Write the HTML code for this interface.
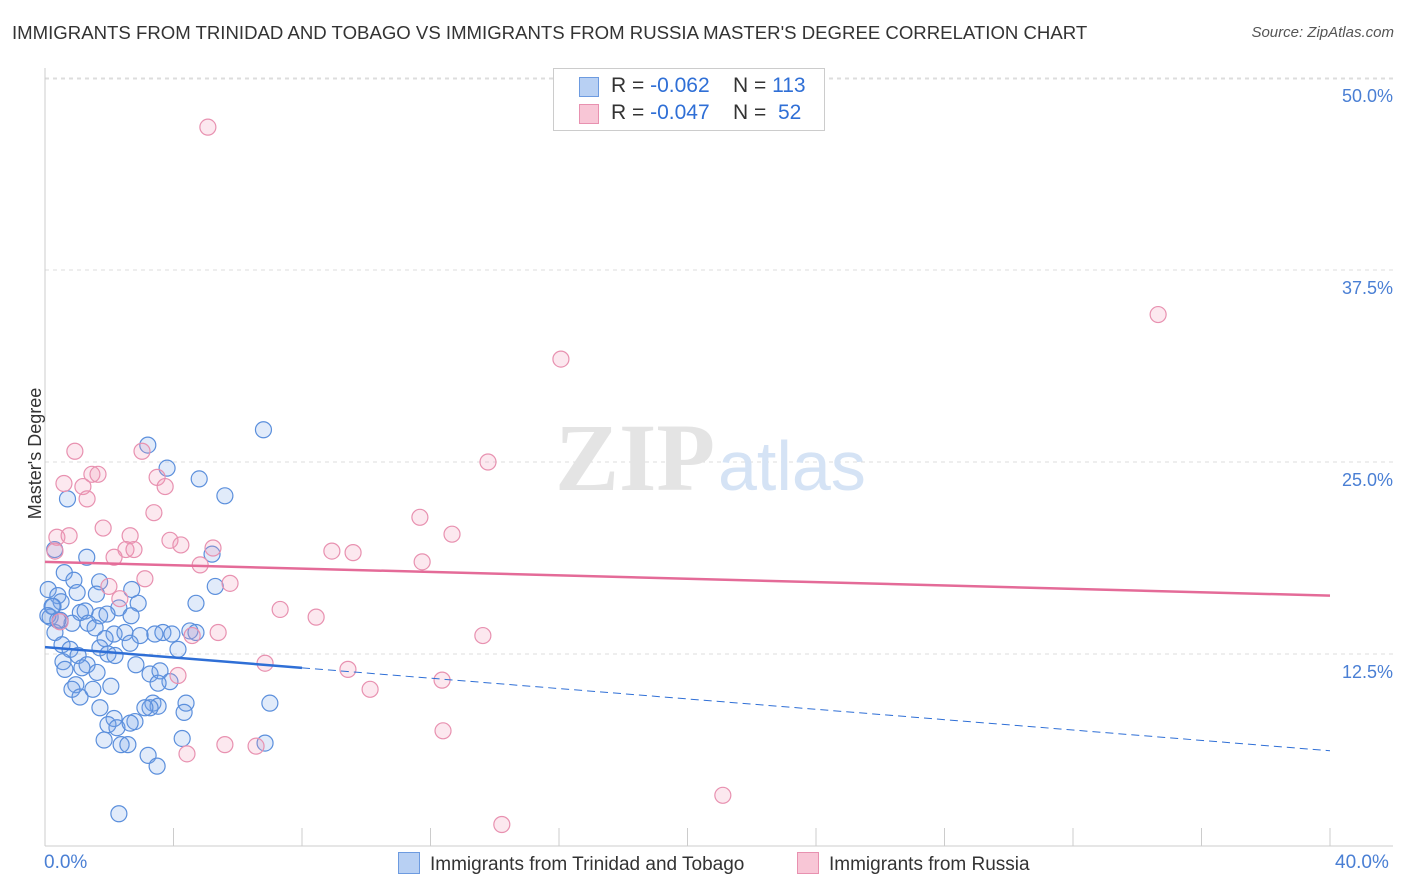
<!DOCTYPE html>
<html><head><meta charset="utf-8">
<style>
body{margin:0;background:#fff;font-family:"Liberation Sans",sans-serif;}
#wrap{position:relative;width:1406px;height:892px;overflow:hidden;}
.t{position:absolute;white-space:nowrap;}
</style></head>
<body>
<div id="wrap">
<div class="t" style="left:12px;top:22px;font-size:18.6px;color:#333;">IMMIGRANTS FROM TRINIDAD AND TOBAGO VS IMMIGRANTS FROM RUSSIA MASTER'S DEGREE CORRELATION CHART</div>
<div class="t" style="right:12px;top:24px;font-size:15px;color:#555;font-style:italic;">Source: ZipAtlas.com</div>
<svg id="plot" width="1406" height="892" style="position:absolute;left:0;top:0"></svg>
</div>
<script>
const xTicks=[0,4,8,12,16,20,24,28,32,36,40];
const yTicks=[12.5,25,37.5,50];
const yTickLabels=["12.5%","25.0%","37.5%","50.0%"];
const blueX=[3.2,6.8,3.8,4.8,5.6,0.7,0.3,1.3,5.2,0.6,0.9,1.7,0.1,0.4,1.0,1.6,2.7,5.3,4.7,2.9,2.3,0.5,0.25,1.1,1.25,1.7,1.93,2.68,0.16,0.47,0.84,1.34,1.56,0.31,2.15,2.49,2.96,3.42,3.67,3.95,4.51,4.7,1.87,2.65,4.14,0.53,0.78,1.03,1.71,1.96,2.18,0.56,1.31,0.62,1.15,1.62,2.83,3.27,3.58,3.89,3.52,2.05,0.96,1.49,0.84,1.09,1.71,3.36,3.52,4.39,4.33,3.27,2.15,2.8,1.96,2.24,1.84,2.37,2.58,4.27,3.21,3.49,2.3,7.0,6.85,2.65,3.11,0.22,0.09,0.4];
const blueY=[26.1,27.1,24.6,23.9,22.8,22.6,19.3,18.8,19.0,17.8,17.3,17.2,16.7,16.3,16.5,16.4,16.7,16.9,15.8,15.8,15.5,15.9,15.6,15.2,15.3,14.99,15.1,14.99,14.9,14.7,14.5,14.5,14.2,13.9,13.8,13.9,13.7,13.8,13.9,13.8,14.0,13.9,13.5,13.2,12.8,13.1,12.8,12.4,12.9,12.5,12.4,12.0,11.8,11.5,11.6,11.3,11.8,11.2,11.4,10.7,10.6,10.4,10.5,10.2,10.2,9.7,9.0,9.3,9.1,9.3,8.7,9.0,8.3,8.1,7.9,7.7,6.9,6.6,6.6,7.0,5.9,5.2,2.1,9.3,6.7,8.0,9.0,15.6,15.0,14.7];
const pinkX=[5.07,34.65,16.06,13.79,3.02,0.93,1.46,1.65,0.59,1.18,1.31,3.49,3.74,3.39,11.67,1.81,12.67,0.37,0.75,2.65,3.89,4.23,5.23,2.52,2.77,0.31,8.93,9.59,2.15,11.74,4.83,3.11,5.76,1.99,2.33,7.32,8.44,0.47,5.39,4.58,13.63,6.85,9.43,4.14,12.36,10.12,5.6,6.57,4.42,12.39,21.1,14.22];
const pinkY=[46.8,34.6,31.7,25.0,25.7,25.7,24.2,24.2,23.6,23.4,22.6,24.0,23.4,21.7,21.4,20.7,20.3,20.1,20.2,20.2,19.9,19.6,19.4,19.3,19.3,19.2,19.2,19.1,18.8,18.5,18.3,17.4,17.1,16.9,16.1,15.4,14.9,14.6,13.9,13.7,13.7,11.9,11.5,11.1,10.8,10.2,6.6,6.5,6.0,7.5,3.3,1.4];
const blueTrend=[12.95,11.6];
const pinkTrend=[18.5,16.3];
const X=v=>45+v*32.125, Y=v=>846-v*15.36;
const svg=document.getElementById('plot');const NS='http://www.w3.org/2000/svg';
function mk(tag,attrs,name,parent){const e=document.createElementNS(NS,tag);for(const k in attrs)e.setAttribute(k,attrs[k]);


(parent||svg).appendChild(e);return e;}
yTicks.forEach((v,i)=>{mk('line',{x1:45,x2:1393,y1:Y(v),y2:Y(v),stroke:'#ddd','stroke-dasharray':'4,4'},'y-gridline');
const t=mk('text',{x:1393,y:Y(v)+24,'text-anchor':'end','font-size':18,fill:'#4a7fd4','font-family':'Liberation Sans'},'y-tick-label');t.textContent=yTickLabels[i];});
mk('line',{x1:45,x2:1393,y1:79,y2:79,stroke:'#ddd','stroke-dasharray':'4,4'},'top-gridline');
mk('line',{x1:45,x2:45,y1:68,y2:846,stroke:'#ccc'},'y-axis-line');
mk('line',{x1:45,x2:1393,y1:846,y2:846,stroke:'#ccc'},'x-axis-line');
xTicks.forEach(v=>mk('line',{x1:X(v),x2:X(v),y1:828,y2:846,stroke:'#ccc'},'x-tick'));
let wm=mk('text',{x:555,y:490,'font-size':96,fill:'#e4e4e4','font-family':'Liberation Serif','font-weight':'bold'},'watermark-zip');wm.textContent='ZIP';
wm=mk('text',{x:718,y:490,'font-size':70,fill:'#d5e3f5','font-family':'Liberation Sans'},'watermark-atlas');wm.textContent='atlas';
blueX.forEach((v,i)=>mk('circle',{cx:X(v),cy:Y(blueY[i]),r:8,fill:'rgba(120,165,230,0.22)',stroke:'#5b8fdc','stroke-width':1.2},'blue-point'));
pinkX.forEach((v,i)=>mk('circle',{cx:X(v),cy:Y(pinkY[i]),r:8,fill:'rgba(240,150,180,0.22)',stroke:'#e891b0','stroke-width':1.2},'pink-point'));
const by=x=>blueTrend[0]+(blueTrend[1]-blueTrend[0])*x/8;
mk('line',{x1:X(0),y1:Y(by(0)),x2:X(8),y2:Y(by(8)),stroke:'#2f6fd6','stroke-width':2.5},'blue-trend-solid');
mk('line',{x1:X(8),y1:Y(by(8)),x2:X(40),y2:Y(by(40)),stroke:'#2f6fd6','stroke-width':1,'stroke-dasharray':'8,5'},'blue-trend-dashed');
mk('line',{x1:X(0),y1:Y(pinkTrend[0]),x2:X(40),y2:Y(pinkTrend[1]),stroke:'#e46b98','stroke-width':2.5},'pink-trend');
</script>
<div class="t" style="left:553px;top:68px;width:270px;height:61px;border:1px solid #ccc;background:#fff;font-size:21px;color:#333;">
 <div style="position:absolute;left:25px;top:8px;width:18px;height:18px;background:#b8d0f3;border:1px solid #6d9be0;"></div>
 <div style="position:absolute;left:57px;top:5px;">R = <span style="color:#2f6fd6">-0.062</span>&nbsp;&nbsp;&nbsp;&nbsp;N = <span style="color:#2f6fd6">113</span></div>
 <div style="position:absolute;left:25px;top:35px;width:18px;height:18px;background:#f8c6d6;border:1px solid #e891b0;"></div>
 <div style="position:absolute;left:57px;top:32px;">R = <span style="color:#2f6fd6">-0.047</span>&nbsp;&nbsp;&nbsp;&nbsp;N = &nbsp;<span style="color:#2f6fd6">52</span></div>
</div>
<div class="t" style="left:-30px;top:443px;font-size:18px;color:#333;transform:rotate(-90deg);">Master's Degree</div>
<div class="t" style="left:44px;top:852px;font-size:19px;color:#4a7fd4;">0.0%</div>
<div class="t" style="left:1335px;top:852px;font-size:19px;color:#4a7fd4;">40.0%</div>
<div class="t" style="left:398px;top:852px;font-size:19px;color:#333;"><span style="display:inline-block;width:20px;height:20px;background:#b8d0f3;border:1px solid #6d9be0;vertical-align:-4px;margin-right:10px;"></span>Immigrants from Trinidad and Tobago</div>
<div class="t" style="left:797px;top:852px;font-size:19px;color:#333;"><span style="display:inline-block;width:20px;height:20px;background:#f8c6d6;border:1px solid #e891b0;vertical-align:-4px;margin-right:10px;"></span>Immigrants from Russia</div>
</body></html>
